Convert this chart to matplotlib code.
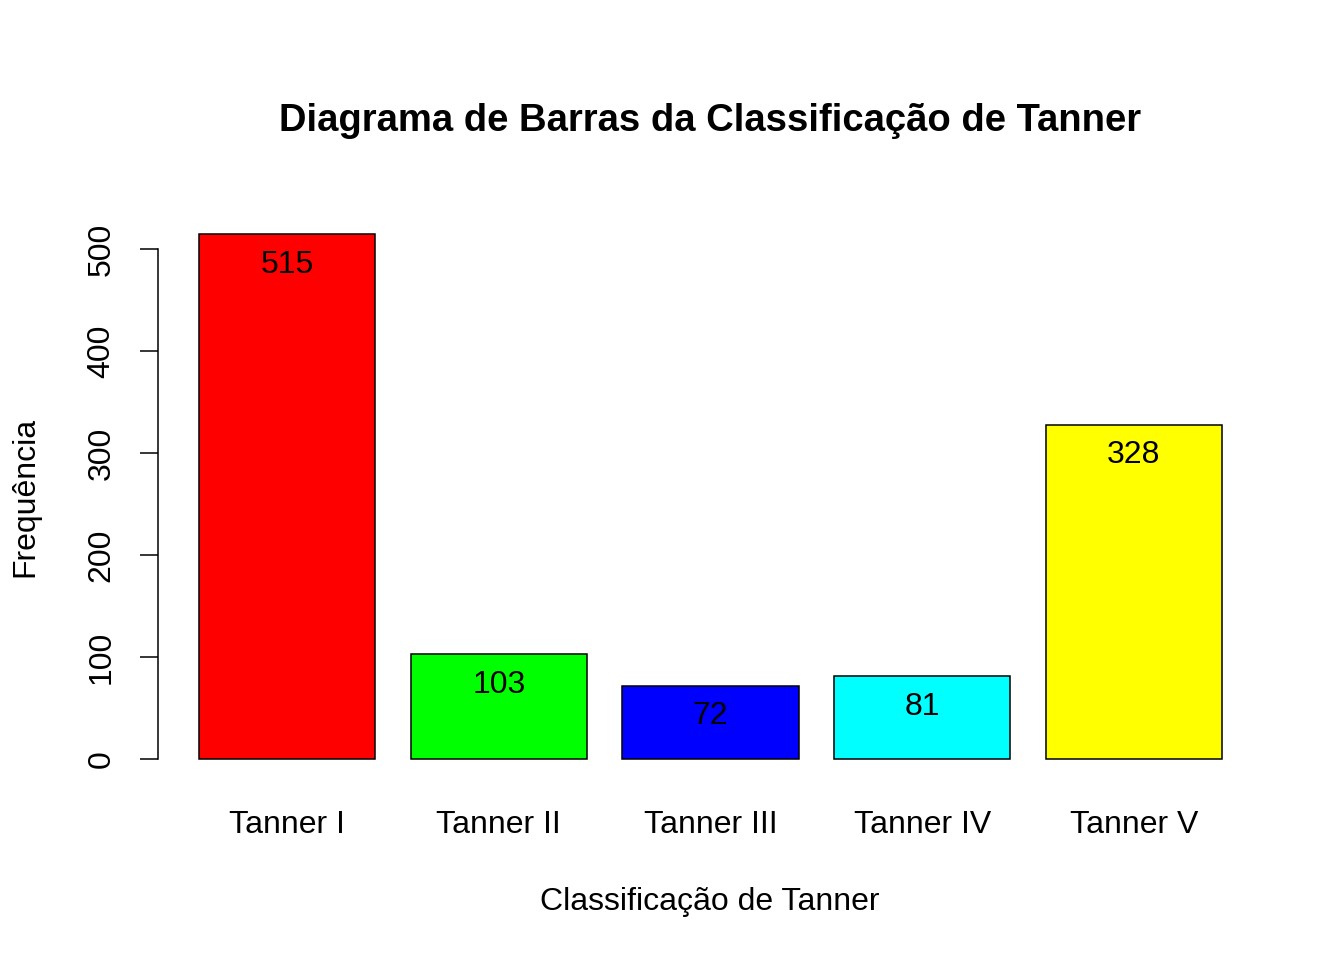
import matplotlib
matplotlib.use("Agg")
import matplotlib.pyplot as plt

categorias = ["Tanner I", "Tanner II", "Tanner III", "Tanner IV", "Tanner V"]
frequencias = [515, 103, 72, 81, 328]
cores = ["#FF0000", "#00FF00", "#0000FF", "#00FFFF", "#FFFF00"]
yticks = [0, 100, 200, 300, 400, 500]

plt.rcParams['font.family'] = ['Liberation Sans', 'DejaVu Sans']

fig = plt.figure(figsize=(13.44, 9.6), dpi=100)
ax = fig.add_axes([0.1176, 0.1875, 0.9397 - 0.1176, 0.778 - 0.1875])

# R barplot layout: width 1, space 0.2
pos = [0.2 + i * 1.2 + 0.5 for i in range(len(categorias))]
ax.bar(pos, frequencias, width=1.0, color=cores, edgecolor="black", linewidth=1.1)
ax.set_xlim(-0.032, 6.232)
ax.set_ylim(-20.6, 535.6)

for x, v in zip(pos, frequencias):
    ax.text(x, v - 30, str(v), ha="center", va="center", fontsize=23)

for s in ["top", "right", "bottom"]:
    ax.spines[s].set_visible(False)
ax.spines["left"].set_bounds(0, 500)
ax.spines["left"].set_linewidth(1.1)
ax.set_yticks(yticks)
ax.set_yticklabels([str(t) for t in yticks], rotation=90, va="center", fontsize=23)
ax.tick_params(axis="y", length=13, width=1.1, pad=17)
ax.set_xticks(pos)
ax.set_xticklabels(categorias, fontsize=23)
ax.tick_params(axis="x", length=0, pad=21.5)

fig.text(710 / 1344, 1 - 121 / 960, "Diagrama de Barras da Classificação de Tanner",
         ha="center", va="center", fontsize=27.5, fontweight="bold")
fig.text(710 / 1344, 1 - 902 / 960, "Classificação de Tanner",
         ha="center", va="center", fontsize=23)
fig.text(25 / 1344, 1 - 497 / 960, "Frequência",
         ha="center", va="center", rotation=90, fontsize=23)

fig.savefig("out.png", dpi=100)
